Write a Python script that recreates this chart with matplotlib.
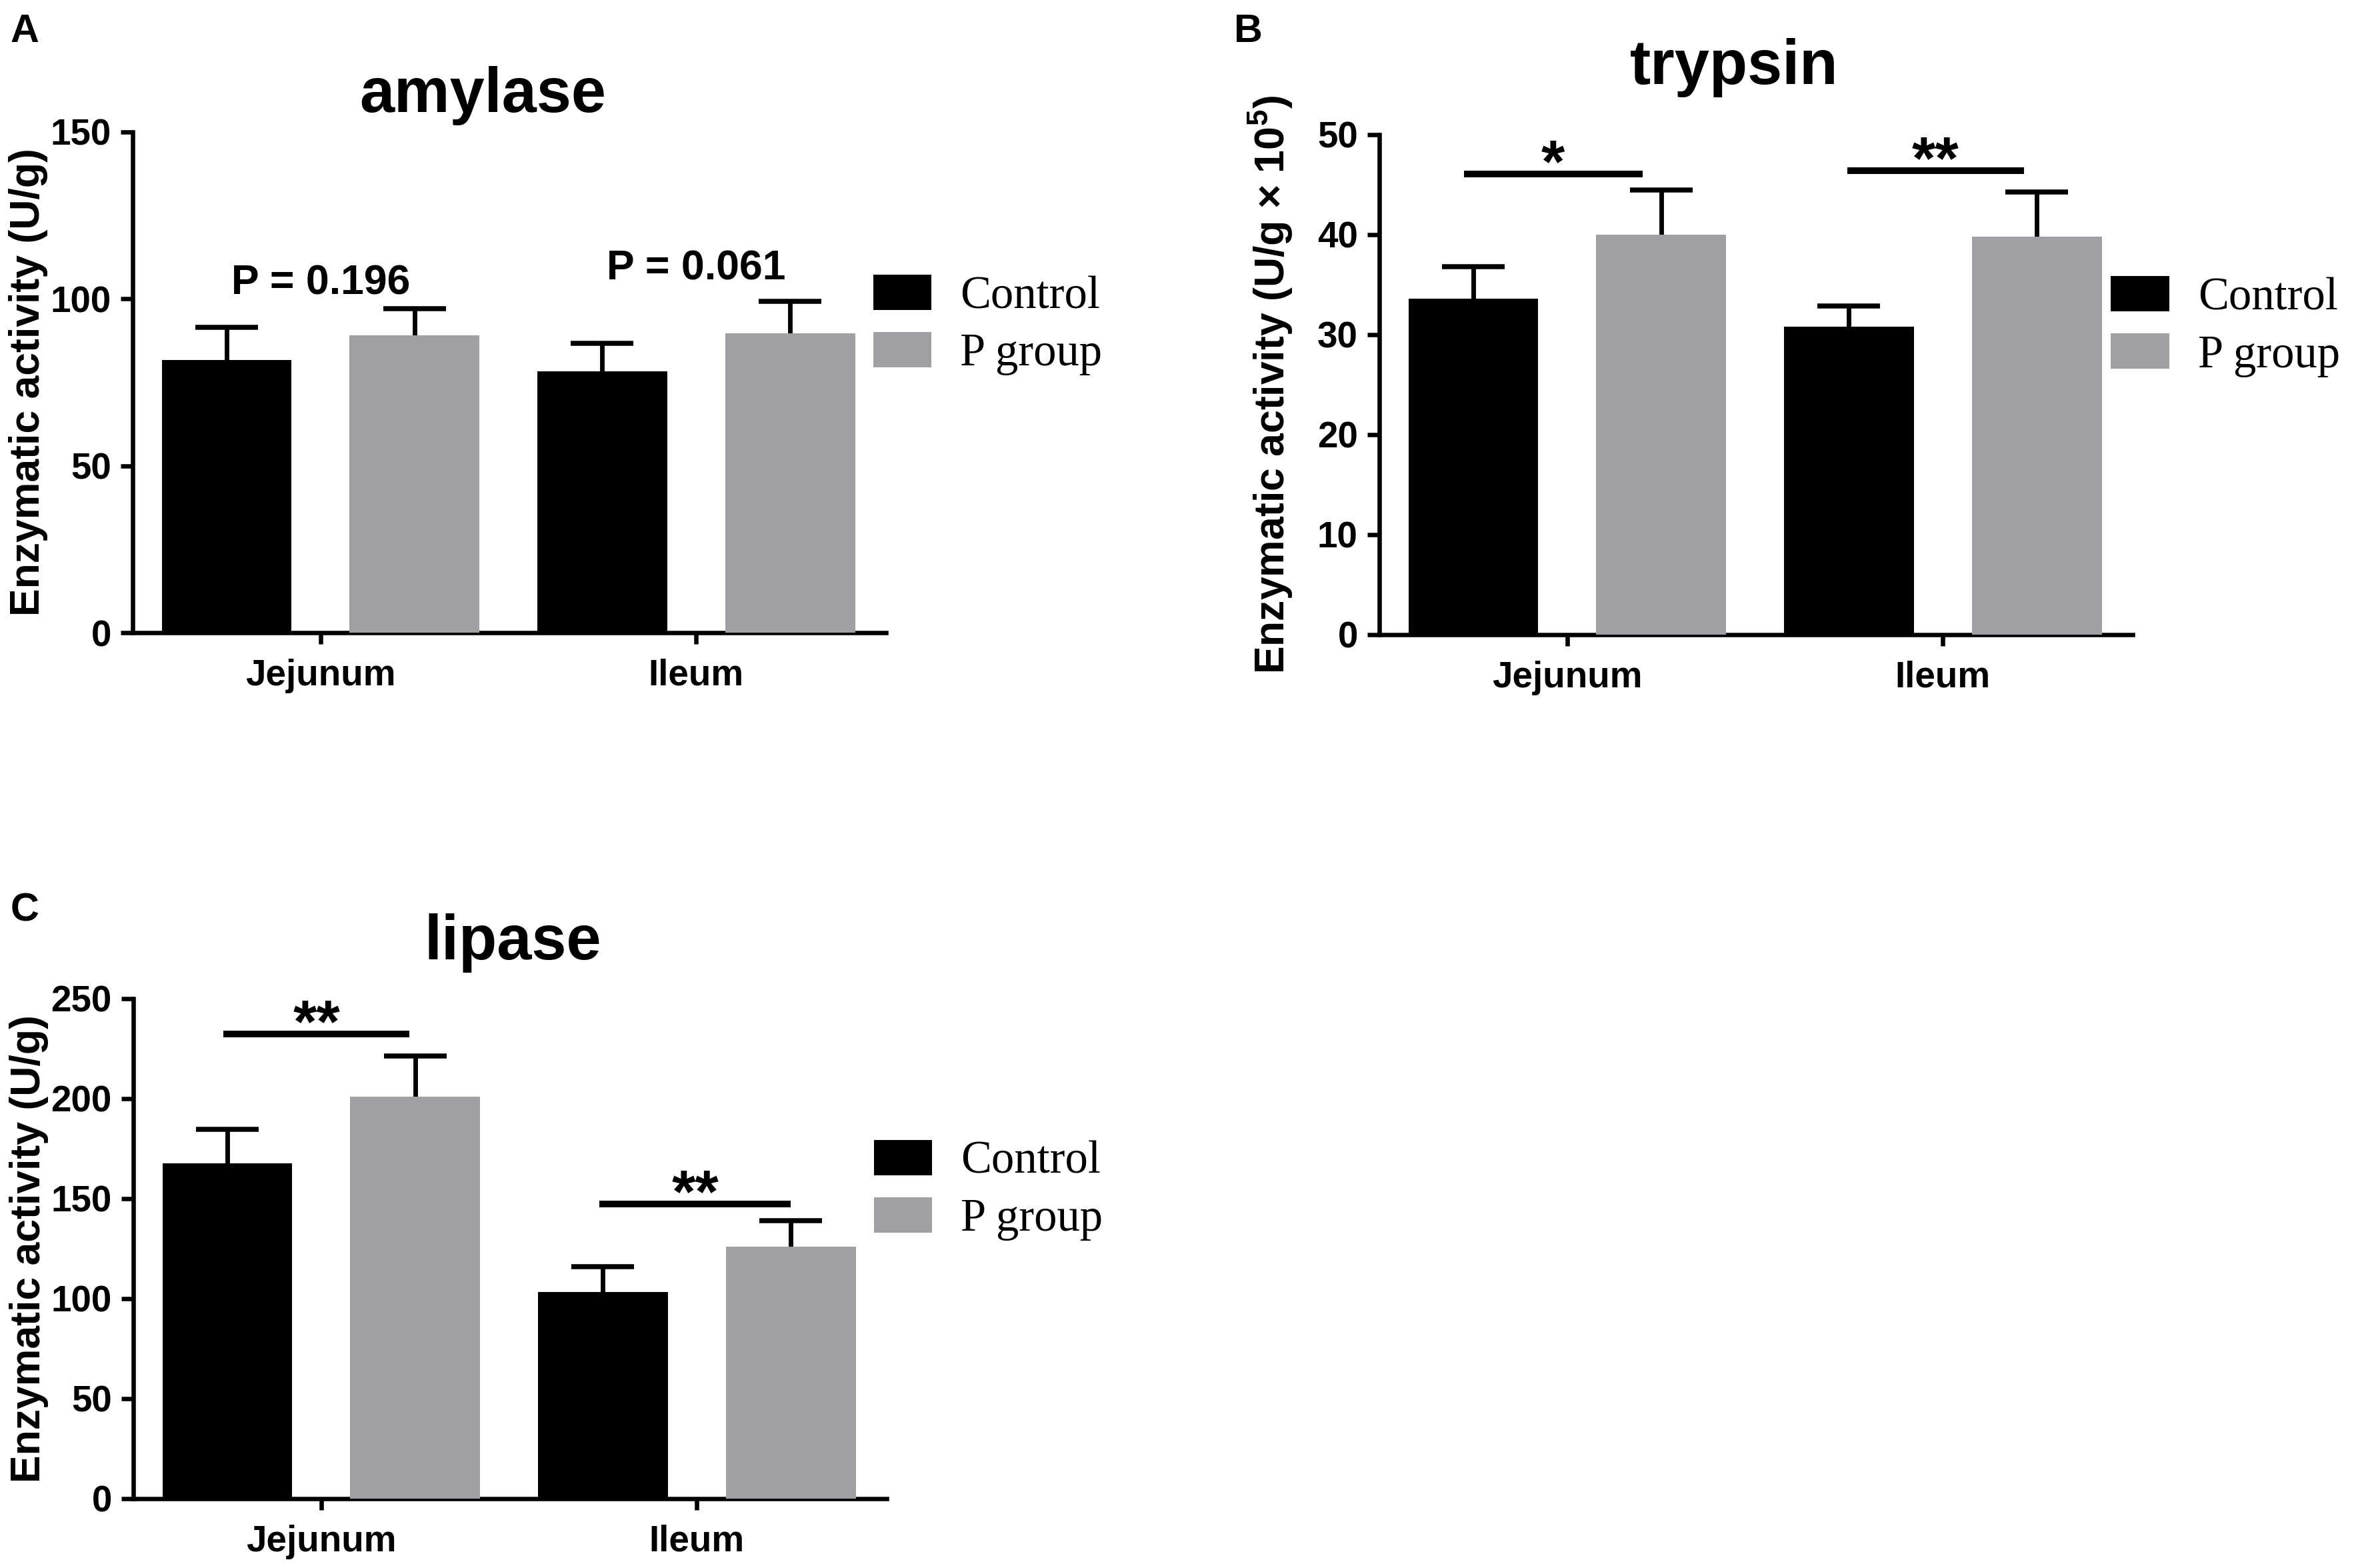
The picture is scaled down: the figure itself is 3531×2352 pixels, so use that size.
import numpy as np
import matplotlib
matplotlib.use("Agg")
import matplotlib.pyplot as plt

plt.rcParams["font.family"] = ["Liberation Sans", "DejaVu Sans"]
plt.rcParams["font.weight"] = "bold"
plt.rcParams["mathtext.fontset"] = "custom"
plt.rcParams["mathtext.bf"] = "Liberation Sans:bold"
plt.rcParams["mathtext.rm"] = "Liberation Sans:bold"
plt.rcParams["mathtext.default"] = "bf"

# data
sites = ["Jejunum", "Ileum"]
groups = ["Control", "P group"]
colors = ["#000000", "#a0a0a4"]

amylase_ctrl = [81.7, 78.2]
amylase_ctrl_sd = [9.8, 8.4]
amylase_p = [89.0, 89.7]
amylase_p_sd = [8.0, 9.5]
amylase_notes = ["P = 0.196", "P = 0.061"]
amylase_note_y = [101.3, 105.8]

trypsin_ctrl = [33.6, 30.8]
trypsin_ctrl_sd = [3.2, 2.1]
trypsin_p = [40.0, 39.8]
trypsin_p_sd = [4.5, 4.5]
trypsin_stars = ["*", "**"]
trypsin_star_y = [46.1, 46.4]

lipase_ctrl = [167.6, 103.2]
lipase_ctrl_sd = [17.2, 12.8]
lipase_p = [200.9, 126.0]
lipase_p_sd = [20.3, 13.0]
lipase_stars = ["**", "**"]
lipase_star_y = [232.5, 147.5]

W, H = 3531, 2352
fig = plt.figure(figsize=(W / 225, H / 225), dpi=225)


def box(left, top, right, bottom):
    return fig.add_axes([left / W, 1 - bottom / H, (right - left) / W, (bottom - top) / H])


def panel(ax, ctrl, ctrl_sd, p, p_sd, ymax, ystep, title, title_x, title_pad,
          ylabel, labelpad, leg_xy):
    xc = np.arange(len(sites)) * 2.0
    xp = xc + 1
    ax.bar(xc, ctrl, width=0.69, color=colors[0], linewidth=0, label=groups[0], zorder=3)
    ax.bar(xp, p, width=0.69, color=colors[1], linewidth=0, label=groups[1], zorder=3)
    for x, v, e in [(xc, ctrl, ctrl_sd), (xp, p, p_sd)]:
        eb = ax.errorbar(x, v, yerr=[np.zeros(len(e)), e], fmt="none", ecolor="black",
                         elinewidth=2.2, capsize=14.9, capthick=2.4, zorder=2)
        eb[1][0].set_visible(False)
    ax.set_xlim(-0.5, 3.51)
    ax.set_ylim(0, ymax)
    ax.set_yticks(np.arange(0, ymax + 1, ystep))
    ax.set_xticks(xc + 0.5)
    ax.set_xticklabels(sites)
    for s in ["top", "right"]:
        ax.spines[s].set_visible(False)
    for s in ["left", "bottom"]:
        ax.spines[s].set_linewidth(2.1)
    ax.tick_params(axis="both", direction="out", width=2.1, labelsize=17.5)
    ax.tick_params(axis="y", length=5.8, pad=4.5)
    ax.tick_params(axis="x", length=5.4, pad=7)
    ax.set_title(title, fontsize=30, fontweight="bold", x=title_x, pad=title_pad)
    ax.set_ylabel(ylabel, fontsize=20, fontweight="bold", labelpad=labelpad)
    ax.legend(loc="center left", bbox_to_anchor=leg_xy, frameon=False,
              prop=dict(family="Liberation Serif", size=22, weight="normal"),
              handlelength=1.27, handleheight=0.81, handletextpad=0.63,
              labelspacing=0.3, borderpad=0, borderaxespad=0)
    return xc, xp


def stars(ax, xc, xp, marks, ys, starts, ends):
    for i in range(len(marks)):
        x0 = xc[i] + starts[i]
        x1 = xp[i] + ends[i]
        ax.plot([x0, x1], [ys[i], ys[i]], color="black", lw=3.2,
                solid_capstyle="butt", clip_on=False, zorder=4)
        ax.annotate(marks[i], xy=((x0 + x1) / 2, ys[i]), xytext=(0, -4),
                    textcoords="offset points", ha="center", va="baseline",
                    fontsize=29, fontweight="bold")


# A - amylase
axA = box(199, 198, 1329, 949)
xc, xp = panel(axA, amylase_ctrl, amylase_ctrl_sd, amylase_p, amylase_p_sd, 150, 50,
               "amylase", 0.465, 9.6, "Enzymatic activity (U/g)", 1, (0.983, 0.6145))
for i in range(len(sites)):
    axA.text(xc[i] + 0.5, amylase_note_y[i], amylase_notes[i], ha="center",
             va="baseline", fontsize=20, fontweight="bold")

# B - trypsin
axB = box(2069, 202, 3199, 952)
xc, xp = panel(axB, trypsin_ctrl, trypsin_ctrl_sd, trypsin_p, trypsin_p_sd, 50, 10,
               "trypsin", 0.471, 24.3, "Enzymatic activity (U/g × 10$^{5}$)", 11,
               (0.971, 0.616))
stars(axB, xc, xp, trypsin_stars, trypsin_star_y, [-0.05, -0.01], [-0.1, -0.07])

# C - lipase
axC = box(200, 1498, 1330, 2248)
xc, xp = panel(axC, lipase_ctrl, lipase_ctrl_sd, lipase_p, lipase_p_sd, 250, 50,
               "lipase", 0.504, 18.9, "Enzymatic activity (U/g)", 1, (0.983, 0.617))
stars(axC, xc, xp, lipase_stars, lipase_star_y, [-0.02, -0.02], [-0.03, 0.0])

fig.text(16 / W, 1 - 20 / H, "A", fontsize=19, fontweight="bold", va="top", ha="left")
fig.text(1851 / W, 1 - 20 / H, "B", fontsize=19, fontweight="bold", va="top", ha="left")
fig.text(16 / W, 1 - 1338 / H, "C", fontsize=19, fontweight="bold", va="top", ha="left")

fig.savefig("out.png", dpi=225)
